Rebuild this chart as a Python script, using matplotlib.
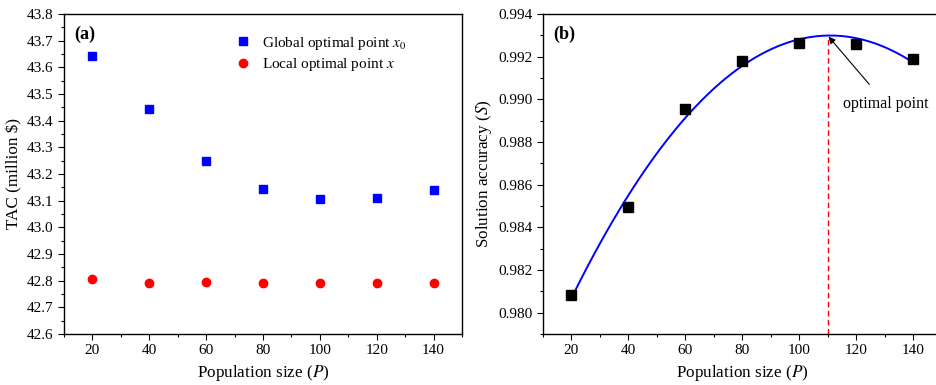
import numpy as np
import matplotlib
matplotlib.use("Agg")
import matplotlib.pyplot as plt

plt.rcParams['font.family'] = ['Liberation Serif', 'DejaVu Serif']
plt.rcParams['mathtext.fontset'] = 'stix'

# Data
pop_size = [20, 40, 60, 80, 100, 120, 140]
tac_global = [43.642, 43.445, 43.250, 43.145, 43.108, 43.110, 43.140]
tac_local = [42.806, 42.790, 42.795, 42.790, 42.790, 42.790, 42.790]
accuracy = [0.98085, 0.98495, 0.98955, 0.99180, 0.99265, 0.99260, 0.99190]
optimal_P = 110
xticks = [20, 40, 60, 80, 100, 120, 140]

fig = plt.figure(figsize=(9.37, 3.85), dpi=100)
W, H = 937, 385
def pos(x0, x1, y0, y1):
    return [x0 / W, 1 - y1 / H, (x1 - x0) / W, (y1 - y0) / H]

ax1 = fig.add_axes(pos(64, 462, 14, 334))
ax2 = fig.add_axes(pos(543, 941.5, 14, 334))

tick_fs = 11
label_fs = 12.3

# Panel (a)
ax1.plot(pop_size, tac_global, 's', color='#0000ff', markersize=5.5, linestyle='none',
         label='Global optimal point $x_0$')
ax1.plot(pop_size, tac_local, 'o', color='#ff0000', markersize=6, linestyle='none',
         label='Local optimal point $x$')
ax1.set_xlim(10, 150)
ax1.set_ylim(42.6, 43.8)
ax1.set_xticks(xticks)
ax1.set_xticks(np.arange(10, 151, 10), minor=True)
ax1.set_yticks(np.round(np.arange(42.6, 43.81, 0.1), 1))
ax1.set_yticks(np.arange(42.6, 43.81, 0.05), minor=True)
ax1.yaxis.set_major_formatter(matplotlib.ticker.FormatStrFormatter('%.1f'))
ax1.set_xlabel('Population size ($\\mathit{P}$)', fontsize=label_fs, labelpad=4)
ax1.set_ylabel('TAC (million \\$)', fontsize=label_fs, labelpad=3)
ax1.text(0.025, 0.935, '(a)', transform=ax1.transAxes, fontsize=13, fontweight='bold',
         va='center', ha='left')
ax1.legend(loc='upper left', bbox_to_anchor=(0.387, 0.978), frameon=False, fontsize=11,
           handletextpad=0.5, labelspacing=0.3, handlelength=1.5)

# Panel (b)
coef = np.polyfit(pop_size, accuracy, 2)
xf = np.linspace(pop_size[0], pop_size[-1], 300)
ax2.plot(xf, np.polyval(coef, xf), color='#0000ff', linewidth=1.4)
ax2.plot(pop_size, accuracy, 's', color='black', markersize=7, linestyle='none')
peak = np.polyval(coef, optimal_P)
ax2.set_xlim(10, 150)
ax2.set_ylim(0.979, 0.994)
ax2.plot([optimal_P, optimal_P], [0.979, peak], color='#ff0000', linestyle=(0, (4, 2.5)),
         linewidth=1.0)
ax2.annotate('optimal point', xy=(optimal_P, peak), xytext=(130.4, 0.9898),
             fontsize=11.5, ha='center', va='center',
             arrowprops=dict(arrowstyle='-|>', color='black', lw=0.8,
                             shrinkA=8, shrinkB=1, mutation_scale=10))
ax2.set_xticks(xticks)
ax2.set_xticks(np.arange(10, 151, 10), minor=True)
ax2.set_yticks(np.arange(0.980, 0.9941, 0.002))
ax2.set_yticks(np.arange(0.979, 0.9941, 0.001), minor=True)
ax2.yaxis.set_major_formatter(matplotlib.ticker.FormatStrFormatter('%.3f'))
ax2.set_xlabel('Population size ($\\mathit{P}$)', fontsize=label_fs, labelpad=4)
ax2.set_ylabel('Solution accuracy ($\\mathit{S}$)', fontsize=label_fs, labelpad=3)
ax2.text(0.025, 0.935, '(b)', transform=ax2.transAxes, fontsize=13, fontweight='bold',
         va='center', ha='left')

for ax in (ax1, ax2):
    ax.tick_params(axis='both', which='major', direction='out', length=4, width=0.8,
                   labelsize=tick_fs, top=False, right=False)
    ax.tick_params(axis='both', which='minor', direction='out', length=2.5, width=0.8,
                   top=False, right=False)
    for s in ax.spines.values():
        s.set_linewidth(1.0)

fig.savefig('out.png', dpi=100)
